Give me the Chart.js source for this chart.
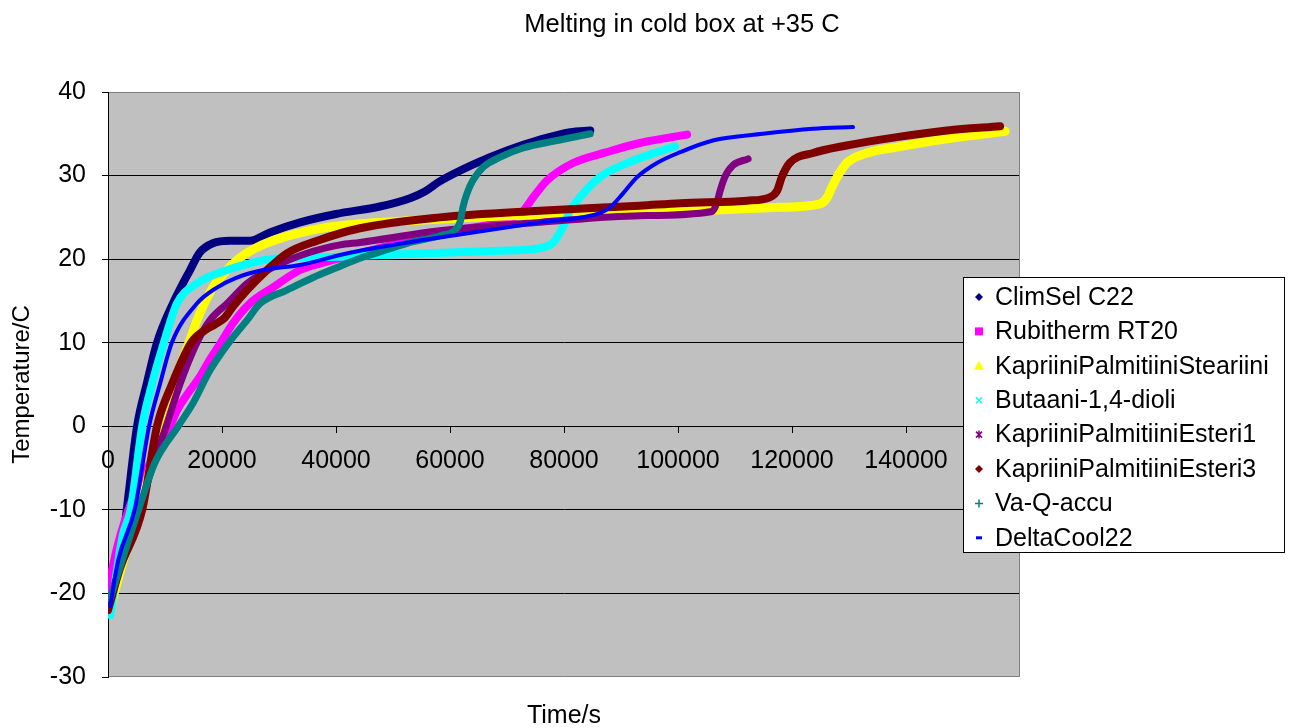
<!DOCTYPE html>
<html><head><meta charset="utf-8">
<script src="https://cdn.jsdelivr.net/npm/chart.js@4/dist/chart.umd.min.js"></script>
<style>html,body{margin:0;padding:0;background:#fff;}#wrap{width:1298px;height:728px;}</style>
</head><body><div id="wrap"><canvas id="c" width="1298" height="728"></canvas></div>
<script>
const chartTitle = 'Melting in cold box at +35 C';
const xTitle = 'Time/s';
const yTitle = 'Temperature/C';
const seriesNames = ['ClimSel C22','Rubitherm RT20','KapriiniPalmitiiniSteariini','Butaani-1,4-dioli','KapriiniPalmitiiniEsteri1','KapriiniPalmitiiniEsteri3','Va-Q-accu','DeltaCool22'];
const seriesColors = ['#000080','#FF00FF','#FFFF00','#00FFFF','#800080','#800000','#008080','#0000FF'];
const seriesMarkers = ['rectRot','rect','triangle','crossRot','star','rectRot','cross','line'];

const timeClimSel = [400,2100,3300,5100,6800,8600,11400,14400,16100,18400,21400,24900,28400,33700,40000,47700,53000,55600,58200,64000,70000,75800,81100,84600];
const tempClimSel = [-21.0,-16.4,-9.9,0,5.1,10,14.7,18.7,20.8,21.9,22.2,22.2,23.2,24.4,25.4,26.3,27.3,28.1,29.3,31.3,33.0,34.3,35.2,35.4];

const timeRubitherm = [0,1600,3000,5600,8200,10900,12100,14400,16100,17900,19800,21900,24900,28900,33700,39500,44200,52500,60000,68800,72600,74600,77000,81600,87500,93300,101600];
const tempRubitherm = [-19.5,-14.5,-11.2,-6.5,-3.5,0,1.9,4.3,5.9,8.0,10,12.3,14.7,16.6,18.7,19.9,20.7,22.2,23.4,24.4,25.6,27.4,29.4,31.5,32.8,33.9,34.9];

const timeSteariini = [400,2500,5600,7400,8800,11400,14200,16100,18400,20900,23200,26100,30700,36700,40700,58200,75800,93300,103900,117900,124900,126100,127000,127900,129600,133200,138400,147200,157400];
const tempSteariini = [-21.8,-16.5,-10,-5,0,5,10,13.5,16.6,18.7,20.2,21.4,22.6,23.6,24.0,24.8,25.3,25.6,25.8,26.2,26.6,27.3,28.6,29.8,31.5,32.7,33.4,34.4,35.3];

const timeButaani = [400,1400,2600,4000,6000,7700,9800,12100,15600,20900,24900,28400,40700,51200,68800,75800,78100,79800,81100,82800,86300,91100,96300,99500];
const tempButaani = [-22.6,-18,-13,-9.9,0,5,10,14.7,17.1,18.7,19.5,20.0,20.3,20.6,21.0,21.3,22.0,23.8,25.8,27.4,29.8,31.5,32.8,33.5];

const timeEsteri1 = [400,2500,5600,7700,10200,12600,15600,17900,20900,24400,28900,34900,40700,44200,58200,75800,93300,106000,106800,107400,108200,109600,112300];
const tempEsteri1 = [-21,-16,-10,-5,0,5,10,12.7,14.7,17.1,19.0,20.7,21.7,22.0,23.4,24.4,25.2,25.7,26.7,28.2,29.8,31.2,32.0];

const timeEsteri3 = [0,2100,6000,8600,11200,14600,17000,18800,20500,21900,24400,27900,31400,36700,44200,58200,75800,93300,100400,112100,116100,117400,118200,119600,123700,129600,138400,147200,156500];
const tempEsteri3 = [-22,-17,-10,0,5,10,11.5,12.2,13.0,14.3,16.3,18.7,20.7,22.2,23.7,25.0,25.8,26.4,26.7,27.0,27.4,28.2,29.8,31.5,32.7,33.6,34.6,35.4,35.9];

const timeVaQ = [400,2500,5400,8200,12300,14900,17900,21200,24400,26700,31400,36000,40200,44200,46500,52500,58200,60900,61800,62300,63000,64000,65800,68800,72800,78800,84600];
const tempVaQ = [-20.6,-16,-9.9,-4.4,0,2.75,6.7,10,12.7,14.7,16.3,17.8,19.0,20.1,20.6,21.9,22.8,23.5,24.5,26.3,27.9,29.4,31.0,32.2,33.3,34.2,35.0];

const timeDeltaCool = [400,1800,4700,7200,9100,11200,15600,19100,22600,27200,33700,40700,44200,58200,75800,86300,88100,90400,92800,96300,100400,106100,114900,123700,130700];
const tempDeltaCool = [-21.5,-16,-9.9,0,5,10,14.7,16.6,17.8,18.7,19.3,20.5,21.0,22.6,24.4,25.5,26.2,27.9,29.8,31.5,32.8,34.2,35.0,35.6,35.8];

const xTicks = [0,20000,40000,60000,80000,100000,120000,140000,160000];
const yTicks = [-30,-20,-10,0,10,20,30,40];

const seriesTimes = [timeClimSel,timeRubitherm,timeSteariini,timeButaani,timeEsteri1,timeEsteri3,timeVaQ,timeDeltaCool];
const seriesTemps = [tempClimSel,tempRubitherm,tempSteariini,tempButaani,tempEsteri1,tempEsteri3,tempVaQ,tempDeltaCool];
const lineWidths = [8,8,9,8,7,8,7,4];

const FONT = 'Arial, "Liberation Sans", sans-serif';

const datasets = seriesNames.map((name, i) => ({
  label: name,
  data: seriesTimes[i].map((t, k) => ({x: t, y: seriesTemps[i][k]})),
  borderColor: seriesColors[i],
  backgroundColor: seriesColors[i],
  borderWidth: lineWidths[i],
  borderCapStyle: 'round',
  borderJoinStyle: 'round',
  pointRadius: 0,
  pointStyle: seriesMarkers[i],
  showLine: true,
  fill: false,
  cubicInterpolationMode: 'monotone',
  order: seriesNames.length - i
}));

function drawMarker(ctx, style, color, x, y) {
  ctx.save();
  ctx.fillStyle = color; ctx.strokeStyle = color; ctx.lineWidth = 1.5;
  const r = 4;
  ctx.beginPath();
  if (style === 'rectRot') {
    ctx.moveTo(x, y - r); ctx.lineTo(x + r, y); ctx.lineTo(x, y + r); ctx.lineTo(x - r, y); ctx.closePath(); ctx.fill();
  } else if (style === 'rect') {
    ctx.rect(x - 4, y - 4, 8, 8); ctx.fill();
  } else if (style === 'triangle') {
    ctx.moveTo(x, y - 5); ctx.lineTo(x + 5, y + 4); ctx.lineTo(x - 5, y + 4); ctx.closePath(); ctx.fill();
  } else if (style === 'crossRot') {
    ctx.moveTo(x - 3, y - 3); ctx.lineTo(x + 3, y + 3); ctx.moveTo(x + 3, y - 3); ctx.lineTo(x - 3, y + 3); ctx.stroke();
  } else if (style === 'star') {
    ctx.moveTo(x - 3, y - 3); ctx.lineTo(x + 3, y + 3); ctx.moveTo(x + 3, y - 3); ctx.lineTo(x - 3, y + 3);
    ctx.moveTo(x, y - 4); ctx.lineTo(x, y + 4); ctx.stroke();
  } else if (style === 'cross') {
    ctx.moveTo(x - 4, y); ctx.lineTo(x + 4, y); ctx.moveTo(x, y - 4); ctx.lineTo(x, y + 4); ctx.stroke();
  } else if (style === 'line') {
    ctx.rect(x - 3, y - 1.5, 6, 3); ctx.fill();
  }
  ctx.restore();
}

const decorPlugin = {
  id: 'decor',
  beforeDraw(chart) {
    const {ctx, chartArea: a} = chart;
    ctx.save();
    ctx.fillStyle = '#ffffff';
    ctx.fillRect(0, 0, chart.width, chart.height);
    ctx.fillStyle = '#C0C0C0';
    ctx.fillRect(a.left, a.top, a.right - a.left, a.bottom - a.top);
    ctx.restore();
  },
  beforeDatasetsDraw(chart) {
    const {ctx, chartArea: a} = chart;
    ctx.save();
    ctx.strokeStyle = '#808080';
    ctx.lineWidth = 1;
    ctx.beginPath();
    ctx.moveTo(a.left, a.top + 0.5); ctx.lineTo(a.right - 0.5, a.top + 0.5);
    ctx.lineTo(a.right - 0.5, a.bottom - 0.5); ctx.lineTo(a.left, a.bottom - 0.5);
    ctx.stroke();
    ctx.strokeStyle = '#000';
    ctx.beginPath(); ctx.moveTo(a.left + 0.5, a.top); ctx.lineTo(a.left + 0.5, a.bottom); ctx.stroke();
    ctx.restore();
  },
  afterDraw(chart) {
    const {ctx, chartArea: a} = chart;
    ctx.save();
    ctx.fillStyle = '#000';
    ctx.textAlign = 'center';
    ctx.textBaseline = 'alphabetic';
    ctx.font = '25.5px ' + FONT;
    ctx.fillText(chartTitle, 682, 32);
    ctx.font = '25px ' + FONT;
    ctx.fillText(xTitle, (a.left + a.right) / 2, 723);
    ctx.save();
    ctx.translate(29, (a.top + a.bottom) / 2);
    ctx.rotate(-Math.PI / 2);
    ctx.font = '24px ' + FONT;
    ctx.fillText(yTitle, 0, 0);
    ctx.restore();
    // legend
    const lx = 963, ly = 277, lw = 322, lh = 276;
    ctx.fillStyle = '#fff';
    ctx.fillRect(lx, ly, lw, lh);
    ctx.strokeStyle = '#000'; ctx.lineWidth = 1;
    ctx.strokeRect(lx + 0.5, ly + 0.5, lw - 1, lh - 1);
    ctx.font = '25px ' + FONT;
    ctx.textAlign = 'left';
    ctx.textBaseline = 'middle';
    chart.data.datasets.forEach((ds, i) => {
      const y = 297 + i * 34.4;
      drawMarker(ctx, ds.pointStyle, ds.borderColor, 979, y);
      ctx.fillStyle = '#000';
      ctx.fillText(ds.label, 995, y + 1);
    });
    ctx.restore();
  }
};

new Chart(document.getElementById('c'), {
  type: 'scatter',
  data: { datasets },
  options: {
    responsive: false,
    devicePixelRatio: 1,
    animation: false,
    layout: { padding: { left: 0, right: 278, top: 92, bottom: 51 } },
    plugins: { legend: { display: false }, title: { display: false }, tooltip: { enabled: false } },
    scales: {
      x: {
        type: 'linear',
        position: { y: 0 },
        min: xTicks[0], max: xTicks[xTicks.length - 1],
        afterBuildTicks: (s) => { s.ticks = xTicks.map(v => ({value: v})); },
        ticks: { font: { family: FONT, size: 25 }, color: '#000', padding: 14, maxRotation: 0, autoSkip: false, callback: (v) => String(v) },
        grid: { drawOnChartArea: false, drawTicks: true, tickLength: 6, tickColor: '#000' },
        border: { display: true, color: '#000', width: 1 }
      },
      y: {
        type: 'linear',
        min: yTicks[0], max: yTicks[yTicks.length - 1],
        afterBuildTicks: (s) => { s.ticks = yTicks.map(v => ({value: v})); },
        afterFit: (s) => { s.width = 108; },
        ticks: { font: { family: FONT, size: 25 }, color: '#000', padding: 16, callback: (v) => String(v) },
        grid: {
          color: (c) => (c.tick && (c.tick.value === 40 || c.tick.value === -30)) ? 'rgba(0,0,0,0)' : '#000',
          lineWidth: 1, drawTicks: true, tickLength: 6, tickColor: '#000'
        },
        border: { display: true, color: '#000', width: 1 }
      }
    }
  },
  plugins: [decorPlugin]
});
</script>
</body></html>
